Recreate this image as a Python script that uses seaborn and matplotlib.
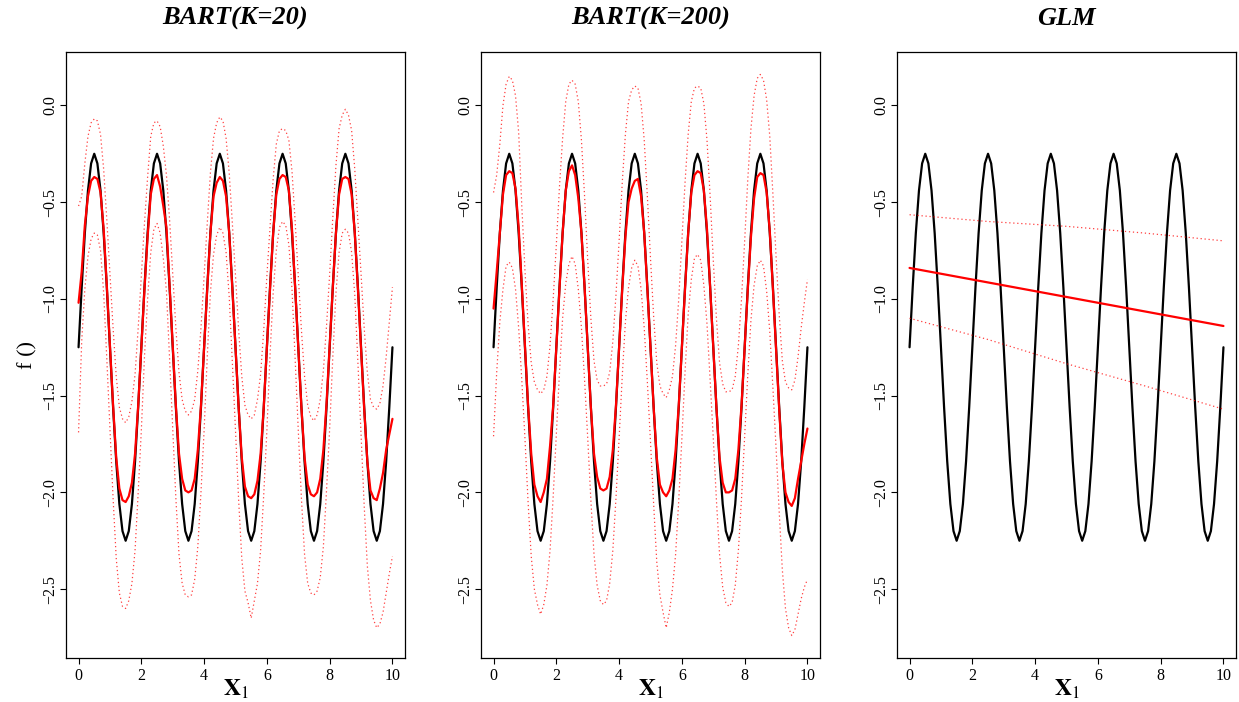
import numpy as np
import pandas as pd
import matplotlib
matplotlib.use("Agg")
import matplotlib.pyplot as plt
import seaborn as sns

# ---------------- data ----------------
x_grid = [round(i * 0.1, 1) for i in range(101)]

truth = [
    -1.25, -0.94, -0.66, -0.44, -0.30, -0.25, -0.30, -0.44, -0.66, -0.94,
    -1.25, -1.56, -1.84, -2.06, -2.20, -2.25, -2.20, -2.06, -1.84, -1.56,
    -1.25, -0.94, -0.66, -0.44, -0.30, -0.25, -0.30, -0.44, -0.66, -0.94,
    -1.25, -1.56, -1.84, -2.06, -2.20, -2.25, -2.20, -2.06, -1.84, -1.56,
    -1.25, -0.94, -0.66, -0.44, -0.30, -0.25, -0.30, -0.44, -0.66, -0.94,
    -1.25, -1.56, -1.84, -2.06, -2.20, -2.25, -2.20, -2.06, -1.84, -1.56,
    -1.25, -0.94, -0.66, -0.44, -0.30, -0.25, -0.30, -0.44, -0.66, -0.94,
    -1.25, -1.56, -1.84, -2.06, -2.20, -2.25, -2.20, -2.06, -1.84, -1.56,
    -1.25, -0.94, -0.66, -0.44, -0.30, -0.25, -0.30, -0.44, -0.66, -0.94,
    -1.25, -1.56, -1.84, -2.06, -2.20, -2.25, -2.20, -2.06, -1.84, -1.56,
    -1.25,
]

bart20_mean = [
    -1.02, -0.86, -0.62, -0.47, -0.39, -0.37, -0.38, -0.45, -0.64, -0.93,
    -1.24, -1.55, -1.82, -1.98, -2.04, -2.05, -2.02, -1.95, -1.80, -1.55,
    -1.25, -0.95, -0.68, -0.46, -0.38, -0.36, -0.42, -0.52, -0.63, -0.93,
    -1.24, -1.55, -1.80, -1.93, -1.99, -2.00, -1.99, -1.93, -1.78, -1.55,
    -1.25, -0.95, -0.66, -0.47, -0.40, -0.37, -0.39, -0.47, -0.66, -0.95,
    -1.25, -1.56, -1.82, -1.97, -2.02, -2.03, -2.01, -1.94, -1.80, -1.56,
    -1.25, -0.95, -0.66, -0.46, -0.38, -0.36, -0.37, -0.44, -0.64, -0.94,
    -1.25, -1.56, -1.82, -1.96, -2.01, -2.02, -2.00, -1.93, -1.78, -1.54,
    -1.24, -0.94, -0.66, -0.46, -0.38, -0.37, -0.38, -0.46, -0.66, -0.95,
    -1.26, -1.57, -1.84, -1.99, -2.03, -2.04, -1.98, -1.90, -1.78, -1.70,
    -1.62,
]
bart20_upper = [
    -0.52, -0.47, -0.30, -0.16, -0.09, -0.07, -0.08, -0.15, -0.33, -0.59,
    -0.87, -1.15, -1.40, -1.56, -1.62, -1.64, -1.61, -1.53, -1.39, -1.15,
    -0.88, -0.61, -0.37, -0.16, -0.09, -0.08, -0.11, -0.21, -0.36, -0.59,
    -0.87, -1.15, -1.38, -1.52, -1.58, -1.60, -1.58, -1.52, -1.37, -1.15,
    -0.88, -0.61, -0.35, -0.17, -0.09, -0.06, -0.08, -0.17, -0.35, -0.61,
    -0.88, -1.16, -1.40, -1.55, -1.60, -1.62, -1.60, -1.52, -1.39, -1.16,
    -0.88, -0.63, -0.38, -0.20, -0.13, -0.12, -0.13, -0.18, -0.34, -0.60,
    -0.88, -1.16, -1.40, -1.55, -1.61, -1.63, -1.60, -1.52, -1.37, -1.14,
    -0.87, -0.58, -0.31, -0.12, -0.05, -0.02, -0.05, -0.13, -0.33, -0.60,
    -0.87, -1.15, -1.38, -1.52, -1.56, -1.57, -1.54, -1.45, -1.30, -1.12,
    -0.94,
]
bart20_lower = [
    -1.69, -1.22, -0.95, -0.78, -0.69, -0.66, -0.67, -0.75, -0.97, -1.31,
    -1.67, -2.03, -2.34, -2.52, -2.59, -2.60, -2.56, -2.47, -2.30, -2.00,
    -1.68, -1.30, -1.00, -0.76, -0.64, -0.61, -0.66, -0.79, -0.96, -1.31,
    -1.67, -2.03, -2.32, -2.47, -2.53, -2.54, -2.53, -2.45, -2.28, -2.00,
    -1.68, -1.30, -0.97, -0.77, -0.67, -0.63, -0.66, -0.76, -0.99, -1.33,
    -1.68, -2.04, -2.34, -2.51, -2.57, -2.65, -2.56, -2.47, -2.30, -2.01,
    -1.68, -1.29, -0.97, -0.75, -0.63, -0.60, -0.62, -0.72, -0.95, -1.31,
    -1.68, -2.03, -2.32, -2.47, -2.52, -2.53, -2.51, -2.44, -2.28, -1.99,
    -1.67, -1.30, -0.97, -0.76, -0.66, -0.64, -0.66, -0.76, -0.98, -1.33,
    -1.70, -2.07, -2.38, -2.56, -2.66, -2.70, -2.68, -2.62, -2.52, -2.42,
    -2.33,
]

bart200_mean = [
    -1.05, -0.86, -0.66, -0.46, -0.36, -0.34, -0.35, -0.43, -0.63, -0.93,
    -1.24, -1.55, -1.80, -1.96, -2.02, -2.05, -2.00, -1.93, -1.76, -1.55,
    -1.25, -0.95, -0.66, -0.44, -0.34, -0.31, -0.36, -0.48, -0.66, -0.94,
    -1.25, -1.56, -1.80, -1.92, -1.98, -1.99, -1.98, -1.92, -1.78, -1.55,
    -1.25, -0.95, -0.68, -0.50, -0.43, -0.39, -0.38, -0.47, -0.66, -0.95,
    -1.25, -1.56, -1.82, -1.96, -2.00, -2.02, -1.99, -1.93, -1.78, -1.55,
    -1.25, -0.95, -0.66, -0.45, -0.36, -0.34, -0.35, -0.44, -0.64, -0.94,
    -1.25, -1.56, -1.82, -1.95, -2.00, -2.00, -1.99, -1.93, -1.78, -1.55,
    -1.25, -0.95, -0.68, -0.48, -0.37, -0.35, -0.36, -0.45, -0.65, -0.95,
    -1.26, -1.57, -1.85, -2.00, -2.05, -2.07, -2.03, -1.93, -1.84, -1.75,
    -1.67,
]
bart200_upper = [
    -0.45, -0.36, -0.20, 0.00, 0.11, 0.15, 0.13, 0.05, -0.14, -0.52,
    -0.85, -1.13, -1.33, -1.43, -1.47, -1.49, -1.47, -1.40, -1.24, -1.00,
    -0.72, -0.42, -0.17, 0.02, 0.11, 0.13, 0.11, 0.02, -0.18, -0.47,
    -0.80, -1.10, -1.32, -1.42, -1.45, -1.45, -1.44, -1.38, -1.22, -0.98,
    -0.70, -0.40, -0.15, 0.02, 0.08, 0.10, 0.09, 0.01, -0.18, -0.47,
    -0.79, -1.09, -1.33, -1.45, -1.49, -1.51, -1.47, -1.40, -1.24, -1.00,
    -0.70, -0.40, -0.15, 0.02, 0.09, 0.10, 0.09, 0.01, -0.18, -0.47,
    -0.80, -1.10, -1.33, -1.44, -1.48, -1.48, -1.47, -1.40, -1.24, -1.00,
    -0.70, -0.38, -0.12, 0.05, 0.14, 0.16, 0.13, 0.03, -0.16, -0.46,
    -0.78, -1.08, -1.32, -1.43, -1.46, -1.47, -1.42, -1.30, -1.15, -1.02,
    -0.90,
]
bart200_lower = [
    -1.71, -1.38, -1.12, -0.95, -0.83, -0.81, -0.84, -0.95, -1.15, -1.42,
    -1.72, -2.05, -2.33, -2.50, -2.58, -2.63, -2.58, -2.48, -2.30, -2.02,
    -1.70, -1.38, -1.10, -0.92, -0.82, -0.78, -0.82, -0.95, -1.15, -1.42,
    -1.72, -2.04, -2.32, -2.48, -2.56, -2.58, -2.56, -2.47, -2.30, -2.03,
    -1.72, -1.40, -1.12, -0.94, -0.84, -0.80, -0.83, -0.95, -1.15, -1.43,
    -1.74, -2.06, -2.36, -2.53, -2.62, -2.70, -2.62, -2.50, -2.32, -2.04,
    -1.72, -1.38, -1.08, -0.90, -0.79, -0.77, -0.80, -0.93, -1.13, -1.42,
    -1.72, -2.04, -2.32, -2.49, -2.57, -2.59, -2.57, -2.48, -2.30, -2.03,
    -1.71, -1.39, -1.11, -0.93, -0.83, -0.80, -0.83, -0.96, -1.17, -1.46,
    -1.77, -2.10, -2.40, -2.60, -2.70, -2.74, -2.71, -2.63, -2.55, -2.49,
    -2.45,
]

glm_x = [0.0, 2.5, 5.0, 7.5, 10.0]
glm_mean = [-0.84, -0.915, -0.99, -1.065, -1.14]
glm_upper = [-0.565, -0.60, -0.625, -0.66, -0.70]
glm_lower = [-1.10, -1.21, -1.335, -1.45, -1.57]

titles = ["BART(K=20)", "BART(K=200)", "GLM"]
x_ticks = [0, 2, 4, 6, 8, 10]
y_ticks = [0.0, -0.5, -1.0, -1.5, -2.0, -2.5]
y_tick_labels = ["0.0", "\u22120.5", "\u22121.0", "\u22121.5", "\u22122.0", "\u22122.5"]

# ---------------- style ----------------
sns.set_theme(style="white")
plt.rcParams["font.family"] = ["Liberation Serif", "DejaVu Serif"]
plt.rcParams["mathtext.fontset"] = "stix"
plt.rcParams["axes.unicode_minus"] = True
plt.rcParams["text.color"] = "black"
plt.rcParams["axes.labelcolor"] = "black"
plt.rcParams["xtick.color"] = "black"
plt.rcParams["ytick.color"] = "black"

W, H = 1239, 702
fig = plt.figure(figsize=(W / 100, H / 100), dpi=100)
fig.patch.set_facecolor("white")

lefts_px = [66, 481, 897]
ax_w_px = 339
top_px, bot_px = 52, 658

panels = [
    (x_grid, bart20_mean, bart20_upper, bart20_lower),
    (x_grid, bart200_mean, bart200_upper, bart200_lower),
    (glm_x, glm_mean, glm_upper, glm_lower),
]

dot_style = dict(color="#ff0000", linewidth=0.9, alpha=0.75,
                 linestyle=(0, (1.0, 2.2)))

for i, (lp, title, (px, pm, pu, pl)) in enumerate(zip(lefts_px, titles, panels)):
    ax = fig.add_axes([lp / W, (H - bot_px) / H, ax_w_px / W, (bot_px - top_px) / H])
    ax.set_facecolor("white")

    df_truth = pd.DataFrame({"x": x_grid, "y": truth})
    sns.lineplot(data=df_truth, x="x", y="y", ax=ax, color="black",
                 linewidth=1.6, sort=False, estimator=None)
    df_u = pd.DataFrame({"x": px, "y": pu})
    df_l = pd.DataFrame({"x": px, "y": pl})
    sns.lineplot(data=df_u, x="x", y="y", ax=ax, sort=False, estimator=None, **dot_style)
    sns.lineplot(data=df_l, x="x", y="y", ax=ax, sort=False, estimator=None, **dot_style)
    df_m = pd.DataFrame({"x": px, "y": pm})
    sns.lineplot(data=df_m, x="x", y="y", ax=ax, color="#ff0000",
                 linewidth=1.6, sort=False, estimator=None)

    ax.set_xlim(-0.4, 10.4)
    ax.set_ylim(-2.856, 0.276)
    ax.set_xticks(x_ticks)
    ax.set_xticklabels([str(t) for t in x_ticks])
    ax.set_yticks(y_ticks)
    ax.set_yticklabels(y_tick_labels, rotation=90, va="center")
    ax.tick_params(axis="both", direction="out", length=4.3, width=0.8,
                   color="black", labelsize=11.5, labelcolor="black",
                   bottom=True, left=True)
    ax.tick_params(axis="x", pad=3)
    ax.tick_params(axis="y", pad=1.2)
    for s in ax.spines.values():
        s.set_visible(True)
        s.set_color("black")
        s.set_linewidth(0.9)

    ax.set_title(title, fontsize=19, fontweight="bold", fontstyle="italic",
                 y=1.056, va="center", pad=0, color="black")
    ax.set_xlabel("")
    ax.set_ylabel("")
    ax.text(0.5, -0.052, r"$\mathbf{X}_1$", transform=ax.transAxes,
            ha="center", va="center", fontsize=17, color="black")
    if i == 0:
        ax.text(-0.112, 0.5, "f ()", transform=ax.transAxes, rotation=90,
                ha="center", va="center", fontsize=16, color="black")

fig.savefig("out.png", dpi=100, facecolor="white")
